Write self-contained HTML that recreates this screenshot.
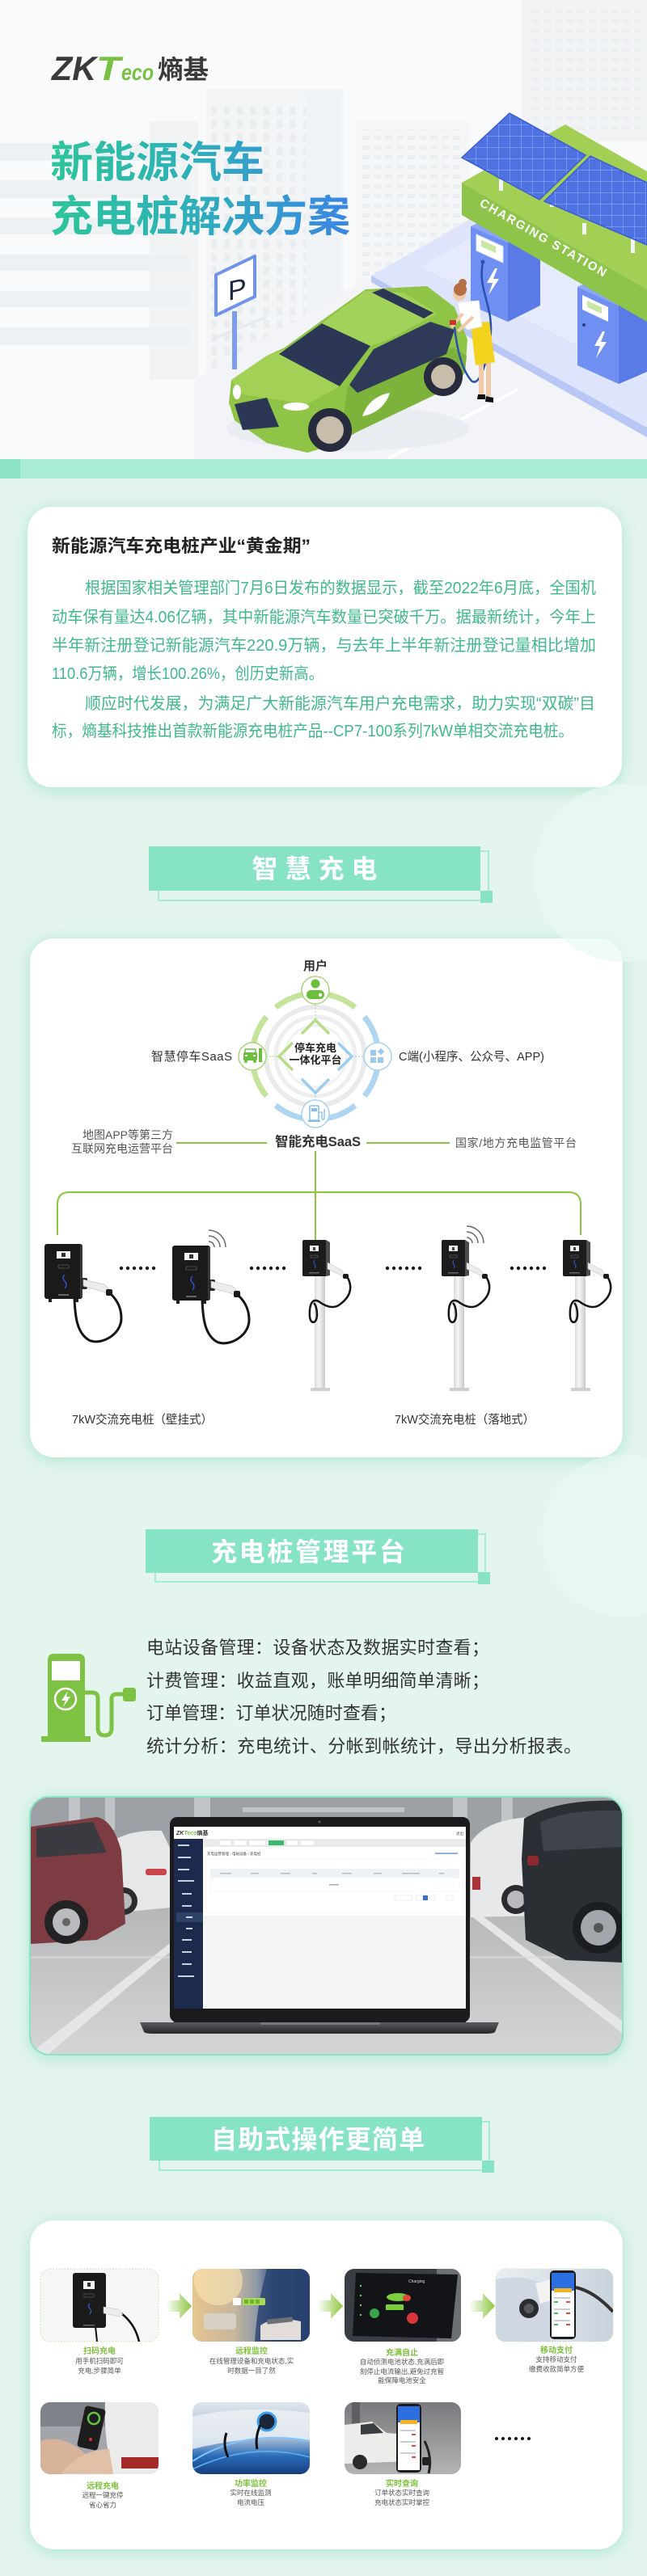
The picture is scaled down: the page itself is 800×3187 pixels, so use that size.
<!DOCTYPE html>
<html><head><meta charset="utf-8">
<style>
html,body{margin:0;padding:0;}
body{width:800px;height:3187px;position:relative;overflow:hidden;background:#e4f5ee;font-family:"Liberation Sans","Noto Sans CJK SC",sans-serif;}
.card{position:absolute;background:#fff;border-radius:30px;box-shadow:0 3px 18px rgba(100,210,165,0.45);}
svg{position:absolute;left:0;top:0;}
svg text{font-family:"Liberation Sans","Noto Sans CJK SC",sans-serif;}
</style></head><body>
<div style="position:absolute;left:0;top:0;width:800px;height:568px;background:#f8fafb"></div>
<div class="card" style="left:34px;top:627px;width:735px;height:347px;"></div>
<div class="card" style="left:37px;top:1161px;width:733px;height:642px;"></div>
<div class="card" style="left:36px;top:2222px;width:731px;height:317px;border:2px solid #8be2c4;border-radius:25px;background:#b5b8ba;"></div>
<div class="card" style="left:37px;top:2747px;width:733px;height:407px;"></div>

<svg width="800" height="3187" viewBox="0 0 800 3187" xmlns="http://www.w3.org/2000/svg">
<defs>
 <linearGradient id="tg" gradientUnits="userSpaceOnUse" x1="62" y1="0" x2="433" y2="0">
  <stop offset="0" stop-color="#2ec59a"/><stop offset="0.45" stop-color="#2eb1b8"/><stop offset="1" stop-color="#3b86e3"/>
 </linearGradient>
 <pattern id="win" width="16.3" height="16.5" patternUnits="userSpaceOnUse"><rect width="7" height="10" fill="#e9edf0"/></pattern>
 <pattern id="win2" width="14" height="12" patternUnits="userSpaceOnUse"><rect width="9" height="5" fill="#eceff2"/></pattern>
 <pattern id="grid" width="14" height="14" patternUnits="userSpaceOnUse"><rect width="14" height="14" fill="#4f72e2"/><path d="M0,0H14M0,0V14" stroke="#9bb1f6" stroke-width="1"/></pattern>
 <linearGradient id="pole" x1="0" x2="1" y1="0" y2="0"><stop offset="0" stop-color="#d9d9d9"/><stop offset="0.4" stop-color="#f6f6f6"/><stop offset="1" stop-color="#c9c9c9"/></linearGradient>
 <linearGradient id="arr" x1="0" x2="1" y1="0" y2="0"><stop offset="0" stop-color="#8cc63f" stop-opacity="0.05"/><stop offset="1" stop-color="#8cc63f"/></linearGradient>
 <linearGradient id="photo" x1="0" x2="0" y1="0" y2="1"><stop offset="0" stop-color="#8e9296"/><stop offset="0.25" stop-color="#a9acaf"/><stop offset="0.5" stop-color="#b9bbbd"/><stop offset="1" stop-color="#d3d5d6"/></linearGradient>
 <linearGradient id="base" x1="0" x2="0" y1="0" y2="1"><stop offset="0" stop-color="#5a5b5f"/><stop offset="1" stop-color="#262729"/></linearGradient>
 <linearGradient id="i2" x1="0" x2="1" y1="0" y2="0"><stop offset="0" stop-color="#e6c58e"/><stop offset="0.35" stop-color="#c8b79d"/><stop offset="0.55" stop-color="#8d99a8"/><stop offset="0.7" stop-color="#34507e"/><stop offset="1" stop-color="#223a63"/></linearGradient>
 <linearGradient id="i6" x1="0" x2="0" y1="0" y2="1"><stop offset="0" stop-color="#dfe5ec"/><stop offset="0.5" stop-color="#a9bfd6"/><stop offset="0.75" stop-color="#2a6bb8"/><stop offset="1" stop-color="#163f7c"/></linearGradient>
 <linearGradient id="i4" x1="0" x2="1" y1="0" y2="0"><stop offset="0" stop-color="#e9eef3"/><stop offset="1" stop-color="#c9d3dc"/></linearGradient>
 <linearGradient id="i7" x1="0" x2="0" y1="0" y2="1"><stop offset="0" stop-color="#77797c"/><stop offset="1" stop-color="#b3b4b5"/></linearGradient>
 <clipPath id="lc"><rect x="38" y="2224" width="731" height="317" rx="23"/></clipPath>
 <clipPath id="c1"><rect x="50" y="2807" width="146" height="90" rx="12"/></clipPath>
 <clipPath id="c2"><rect x="238" y="2807" width="145" height="90" rx="12"/></clipPath>
 <clipPath id="c3"><rect x="426" y="2807" width="144" height="90" rx="12"/></clipPath>
 <clipPath id="c4"><rect x="613" y="2807" width="145" height="90" rx="12"/></clipPath>
 <clipPath id="c5"><rect x="50" y="2972" width="146" height="89" rx="12"/></clipPath>
 <clipPath id="c6"><rect x="238" y="2972" width="145" height="89" rx="12"/></clipPath>
 <clipPath id="c7"><rect x="426" y="2972" width="144" height="89" rx="12"/></clipPath>
</defs>

<!-- ===== HERO BACKGROUND ===== -->
<g>
 <rect x="185" y="150" width="60" height="320" fill="#f1f3f5"/>
 <g fill="#eef1f4">
  <rect x="0" y="177" width="235" height="22"/><rect x="0" y="223" width="235" height="22"/>
  <rect x="0" y="269" width="235" height="21"/><rect x="0" y="315" width="235" height="20"/>
  <rect x="0" y="360" width="235" height="20"/><rect x="0" y="405" width="235" height="22"/>
 </g>
 <rect x="255" y="110" width="170" height="360" fill="#f3f5f7"/>
 <rect x="262" y="127" width="160" height="330" fill="url(#win)"/>
 <rect x="378" y="113" width="44" height="360" fill="#f0f3f5"/>
 <rect x="440" y="150" width="140" height="300" fill="#f4f6f8"/>
 <rect x="448" y="160" width="125" height="280" fill="url(#win2)"/>
 <rect x="645" y="0" width="155" height="175" fill="#f1f3f5"/>
 <rect x="652" y="8" width="145" height="160" fill="url(#win2)"/>
 <!-- ground -->
 <polygon points="240,470 459,341 800,530 800,568 240,568" fill="#f2f4f8"/>
 <line x1="480" y1="567" x2="640" y2="482" stroke="#ffffff" stroke-width="4"/>
 <line x1="262" y1="420" x2="330" y2="392" stroke="#e6e9ee" stroke-width="3"/>
</g>

<!-- platform -->
<polygon points="459,341 640,238 800,238 800,529" fill="#dde4fb"/>
<polygon points="459,341 800,529 800,541 459,349" fill="#b9c7f5"/>
<polygon points="520,330 640,262 800,262 800,470" fill="#e6ebfc"/>

<!-- pumps -->
<g>
 <polygon points="603,262 628,262 628,285 603,285" fill="#eef0fa"/>
 <polygon points="582,280 628,300 628,398 582,378" fill="#6f90f2"/>
 <polygon points="628,300 668,280 668,378 628,398" fill="#5a7ae6"/>
 <polygon points="582,280 622,262 668,280 628,300" fill="#8aa6f5"/>
 <polygon points="589,290 622,305 622,325 589,310" fill="#ffffff" stroke="#dfe6fb"/>
 <polygon points="595,297 613,305 613,313 595,305" fill="#c9e7a4"/>
 <polygon points="612,332 602,350 609,350 604,365 617,345 610,345 615,332" fill="#ffffff"/>
 <circle cx="597" cy="324" r="2.5" fill="#2a4fae"/>
 <polygon points="735,330 760,330 760,362 735,362" fill="#eef0fa"/>
 <polygon points="714,355 765,378 765,475 714,452" fill="#6f90f2"/>
 <polygon points="765,378 800,360 800,460 765,475" fill="#5a7ae6"/>
 <polygon points="714,355 750,338 800,358 765,378" fill="#8aa6f5"/>
 <polygon points="720,365 752,380 752,398 720,383" fill="#ffffff"/>
 <polygon points="726,372 744,380 744,388 726,380" fill="#c9e7a4"/>
 <polygon points="745,410 735,428 742,428 737,443 750,423 743,423 748,410" fill="#ffffff"/>
 <circle cx="722" cy="402" r="2" fill="#2a3a7a"/>
</g>

<!-- canopy -->
<polygon points="571,226 699,154 800,212 800,358" fill="#a3cf55"/>
<polygon points="571,226 800,358 800,398 571,266" fill="#8dc449"/>
<text x="592" y="254" transform="rotate(29.9 592 254)" font-size="15" font-weight="bold" fill="#ffffff" textLength="178" lengthAdjust="spacing">CHARGING STATION</text>
<!-- solar panels -->
<g>
 <rect x="617" y="222" width="5" height="14" fill="#f3f4f8"/>
 <rect x="680" y="240" width="5" height="16" fill="#f3f4f8"/>
 <rect x="720" y="276" width="5" height="14" fill="#f3f4f8"/>
 <rect x="780" y="295" width="5" height="18" fill="#f3f4f8"/>
 <polygon points="571,195 630,140 724,192 667,247" fill="url(#grid)" stroke="#3c5bd0" stroke-width="1.5"/>
 <polygon points="673,249 730,193 800,226 800,303" fill="url(#grid)" stroke="#3c5bd0" stroke-width="1.5"/>
</g>

<!-- parking sign -->
<rect x="287" y="385" width="6" height="72" fill="#7d9df0"/>
<polygon points="267,340 315,317 315,367 267,390" fill="#ffffff" stroke="#6f92ee" stroke-width="4" stroke-linejoin="round"/>
<text x="282" y="372" font-size="34" fill="#1d2640" transform="skewY(-12) translate(0,60)">P</text>

<!-- car -->
<g>
 <ellipse cx="430" cy="530" rx="150" ry="28" fill="#e9ecf1"/>
 <path d="M283,498 L286,470 L330,440 L352,430 L400,395 L452,358 L528,354 L562,380 L578,420 L575,460 L566,475 L440,535 L420,548 L380,560 L330,548 L290,520 Z" fill="#8fc446"/>
 <polygon points="286,470 330,440 352,432 420,478 380,500 300,488" fill="#a2d156"/>
 <polygon points="430,478 560,430 577,440 575,460 566,475 440,535 420,548" fill="#7db33a"/>
 <polygon points="345,438 398,400 458,428 420,478" fill="#2c3756"/>
 <polygon points="398,400 452,360 500,362 540,388 480,420 458,428" fill="#a3d25a"/>
 <polygon points="460,362 474,357 536,387 524,394" fill="#2c3756"/>
 <polygon points="432,476 462,432 532,398 562,408 552,438 442,486" fill="#2f3a58"/>
 <polygon points="290,500 330,492 345,528 300,532" fill="#2c3756"/>
 <ellipse cx="293" cy="485" rx="5" ry="9" fill="#ffffff"/>
 <ellipse cx="366" cy="503" rx="16" ry="5" fill="#ffffff"/>
 <path d="M448,515 C455,495 470,488 482,486 C478,500 466,512 448,515 Z" fill="#ffffff"/>
 <circle cx="408" cy="532" r="27" fill="#262b3d"/><circle cx="408" cy="532" r="17" fill="#c8bcaa"/>
 <circle cx="548" cy="466" r="24" fill="#262b3d"/><circle cx="548" cy="466" r="15" fill="#c8bcaa"/>
</g>
<!-- woman -->
<g>
 <path d="M597,324 C590,360 612,380 606,420 C600,460 590,480 582,470 C570,455 565,430 562,405" stroke="#2a4fae" stroke-width="2.5" fill="none"/>
 <rect x="592" y="446" width="6" height="42" fill="#f0c9a8"/>
 <rect x="601" y="446" width="6" height="44" fill="#f0c9a8"/>
 <path d="M591,488 L600,488 L600,494 L590,494 Z" fill="#111"/>
 <path d="M601,490 L610,492 L610,498 L600,497 Z" fill="#111"/>
 <path d="M582,400 L605,398 L612,448 L588,452 Z" fill="#f2d21b"/>
 <path d="M566,374 L592,372 L596,404 L578,408 L570,400 Z" fill="#ffffff" stroke="#e5e5e5"/>
 <path d="M572,388 L558,405" stroke="#f0c9a8" stroke-width="4"/>
 <path d="M585,392 L566,410" stroke="#f0c9a8" stroke-width="4"/>
 <circle cx="568" cy="364" r="8" fill="#f0c9a8"/>
 <circle cx="569" cy="358" r="8" fill="#b56f45"/>
 <circle cx="572" cy="350" r="5" fill="#b56f45"/>
 <rect x="556" y="396" width="8" height="6" fill="#c0392b"/>
</g>

<!-- logo -->
<text x="64" y="99" font-size="42" font-weight="bold" font-style="italic" fill="#3a3a3a" textLength="55" lengthAdjust="spacingAndGlyphs">ZK</text>
<text x="119" y="99" font-size="42" font-weight="bold" font-style="italic" fill="#79c143" textLength="30" lengthAdjust="spacingAndGlyphs">T</text>
<text x="150" y="99" font-size="28" font-weight="bold" font-style="italic" fill="#79c143" textLength="40" lengthAdjust="spacingAndGlyphs">eco</text>
<text x="195" y="97" font-size="32" font-weight="bold" fill="#3a3a3a" textLength="63" lengthAdjust="spacingAndGlyphs">熵基</text>

<!-- hero title -->
<text x="62" y="219" font-size="53" font-weight="bold" fill="url(#tg)" stroke="#ffffff" stroke-width="1" paint-order="stroke" textLength="265" lengthAdjust="spacingAndGlyphs">新能源汽车</text>
<text x="62" y="286" font-size="53" font-weight="bold" fill="url(#tg)" stroke="#ffffff" stroke-width="1" paint-order="stroke" textLength="371" lengthAdjust="spacingAndGlyphs">充电桩解决方案</text>

<!-- strip -->
<rect x="0" y="568" width="800" height="24" fill="#a8ecd5"/>
<rect x="0" y="568" width="25" height="24" fill="#8de3c5"/>

<!-- decorative circles -->
<circle cx="770" cy="1080" r="110" fill="#eaf8f3" opacity="0.7"/>
<circle cx="770" cy="1900" r="100" fill="#eaf8f3" opacity="0.6"/>

<!-- ===== CARD 1 TEXT ===== -->
<text x="64" y="683" font-size="22" font-weight="bold" fill="#222" textLength="320" lengthAdjust="spacingAndGlyphs">新能源汽车充电桩产业“黄金期”</text>
<g font-size="20" fill="#3fb98c">
 <text x="105" y="734" textLength="632" lengthAdjust="spacingAndGlyphs">根据国家相关管理部门7月6日发布的数据显示，截至2022年6月底，全国机</text>
 <text x="64" y="770" textLength="673" lengthAdjust="spacingAndGlyphs">动车保有量达4.06亿辆，其中新能源汽车数量已突破千万。据最新统计，今年上</text>
 <text x="64" y="805" textLength="673" lengthAdjust="spacingAndGlyphs">半年新注册登记新能源汽车220.9万辆，与去年上半年新注册登记量相比增加</text>
 <text x="64" y="840" textLength="336" lengthAdjust="spacingAndGlyphs">110.6万辆，增长100.26%，创历史新高。</text>
 <text x="105" y="877" textLength="631" lengthAdjust="spacingAndGlyphs">顺应时代发展，为满足广大新能源汽车用户充电需求，助力实现“双碳”目</text>
 <text x="64" y="911" textLength="645" lengthAdjust="spacingAndGlyphs">标，熵基科技推出首款新能源充电桩产品--CP7-100系列7kW单相交流充电桩。</text>
</g>

<!-- ===== BAND 1 ===== -->
<rect x="196" y="1053" width="408" height="61" fill="none" stroke="#a6ebd3" stroke-width="2"/>
<rect x="184" y="1047" width="410" height="55" fill="#86e3c6"/>
<rect x="594" y="1102" width="15" height="15" fill="#86e3c6"/>
<text x="389" y="1086" font-size="32" font-weight="bold" fill="#ffffff" text-anchor="middle" textLength="155" lengthAdjust="spacing">智慧充电</text>

<!-- ===== DIAGRAM ===== -->
<g fill="none">
 <circle cx="390" cy="1307" r="61" stroke="#e8eaeb" stroke-width="6"/>
 <circle cx="390" cy="1307" r="49" stroke="#eceeef" stroke-width="5"/>
 <circle cx="390" cy="1307" r="38" stroke="#f0f1f2" stroke-width="3"/>
 <path d="M340.9,1246.4 A78,78 0 0 1 439.1,1246.4" stroke="#c4e39b" stroke-width="7"/>
 <path d="M329.4,1356.1 A78,78 0 0 1 329.4,1257.9" stroke="#c4e39b" stroke-width="7"/>
 <path d="M450.6,1257.9 A78,78 0 0 1 450.6,1356.1" stroke="#aed6f0" stroke-width="7"/>
 <path d="M439.1,1367.6 A78,78 0 0 1 340.9,1367.6" stroke="#aed6f0" stroke-width="7"/>
 <path d="M373,1279 L390,1262 L407,1279" stroke="#b6dd86" stroke-width="3.5"/>
 <path d="M362,1290 L345,1307 L362,1324" stroke="#b6dd86" stroke-width="3.5"/>
 <path d="M418,1290 L435,1307 L418,1324" stroke="#9dcdee" stroke-width="3.5"/>
 <path d="M373,1335 L390,1352 L407,1335" stroke="#9dcdee" stroke-width="3.5"/>
 <path d="M390,1243 L390,1262" stroke="#b6dd86" stroke-width="1.5" stroke-dasharray="1.5 2.5"/>
 <path d="M329,1307 L345,1307" stroke="#b6dd86" stroke-width="1.5" stroke-dasharray="1.5 2.5"/>
 <path d="M435,1307 L450,1307" stroke="#9dcdee" stroke-width="1.5" stroke-dasharray="1.5 2.5"/>
 <path d="M390,1352 L390,1361" stroke="#9dcdee" stroke-width="1.5" stroke-dasharray="1.5 2.5"/>
</g>
<circle cx="390" cy="1225" r="17" fill="#fff" stroke="#a8d77a" stroke-width="1.5"/>
<circle cx="390" cy="1217" r="5.5" fill="#6cbf3b"/>
<rect x="379" y="1225" width="22" height="11" rx="5" fill="#6cbf3b"/>
<circle cx="396" cy="1231" r="2.2" fill="#fff"/>
<circle cx="312" cy="1307" r="17" fill="#fff" stroke="#a8d77a" stroke-width="1.5"/>
<rect x="301" y="1302" width="17" height="10" rx="2" fill="#6cbf3b"/>
<rect x="303" y="1298" width="13" height="5" rx="1" fill="none" stroke="#6cbf3b" stroke-width="1.5"/>
<circle cx="304" cy="1313" r="2" fill="#6cbf3b"/><circle cx="315" cy="1313" r="2" fill="#6cbf3b"/>
<rect x="320" y="1297" width="4" height="17" fill="#6cbf3b"/>
<rect x="303" y="1305" width="3" height="2" fill="#fff"/><rect x="313" y="1305" width="3" height="2" fill="#fff"/>
<circle cx="467" cy="1307" r="17" fill="#fff" stroke="#a6d2ee" stroke-width="1.5"/>
<rect x="458" y="1299" width="7" height="7" fill="#9cc9ec"/>
<rect x="468" y="1298" width="6" height="6" fill="#9cc9ec" transform="rotate(45 471 1301)"/>
<rect x="458" y="1308" width="7" height="7" fill="#9cc9ec"/>
<rect x="467" y="1308" width="7" height="7" fill="#9cc9ec"/>
<circle cx="390" cy="1378" r="17" fill="#fff" stroke="#a6d2ee" stroke-width="1.5"/>
<rect x="383" y="1368" width="11" height="18" rx="1.5" fill="none" stroke="#86bde8" stroke-width="1.5"/>
<rect x="385" y="1371" width="7" height="4" fill="#86bde8"/>
<rect x="381" y="1386" width="15" height="2" fill="#86bde8"/>
<path d="M394,1376 L398,1376 L398,1384 Q400,1387 401,1383 L401,1372" stroke="#86bde8" stroke-width="1.3" fill="none"/>

<text x="390" y="1301" font-size="13" font-weight="bold" fill="#222" text-anchor="middle">停车充电</text>
<text x="390" y="1316" font-size="13" font-weight="bold" fill="#222" text-anchor="middle">一体化平台</text>
<text x="390" y="1200" font-size="15" font-weight="bold" fill="#333" text-anchor="middle">用户</text>
<text x="287" y="1312" font-size="15" fill="#333" text-anchor="end" textLength="100" lengthAdjust="spacing">智慧停车SaaS</text>
<text x="493" y="1312" font-size="15" fill="#333" textLength="180" lengthAdjust="spacingAndGlyphs">C端(小程序、公众号、APP)</text>
<text x="393" y="1418" font-size="16.5" font-weight="bold" fill="#333" text-anchor="middle" textLength="106" lengthAdjust="spacing">智能充电SaaS</text>
<text x="214" y="1409" font-size="14" fill="#555" text-anchor="end">地图APP等第三方</text>
<text x="214" y="1426" font-size="14" fill="#555" text-anchor="end">互联网充电运营平台</text>
<text x="563" y="1419" font-size="14" fill="#555" textLength="150" lengthAdjust="spacing">国家/地方充电监管平台</text>

<g stroke="#8cc63f" stroke-width="2" fill="none">
 <line x1="218" y1="1414" x2="330" y2="1414"/>
 <line x1="453" y1="1414" x2="556" y2="1414"/>
 <line x1="390" y1="1424" x2="390" y2="1534"/>
 <path d="M71,1528 L71,1490 Q71,1475 86,1475 L703,1475 Q718,1475 718,1490 L718,1528"/>
</g>

<!-- wall chargers -->
<g transform="translate(55,1539)">
 <path d="M37,68 C38,90 40,110 55,119 C70,126 95,112 95,92 C95,80 90,70 83,63" stroke="#151515" stroke-width="3" fill="none"/>
 <rect x="0" y="0" width="47" height="68" rx="3" fill="#1a1a1a"/>
 <rect x="44" y="2" width="3" height="64" fill="#3a3a3a"/>
 <rect x="15" y="9" width="17" height="9" fill="#f2f2f2"/>
 <rect x="21" y="11" width="5" height="5" fill="#333"/>
 <rect x="17" y="26" width="13" height="4" rx="1" fill="none" stroke="#777" stroke-width="0.6"/>
 <path d="M25,38 q-4,4 0,8 q4,4 0,9" stroke="#2f5be0" stroke-width="1.3" fill="none"/>
 <rect x="17" y="62" width="13" height="2" fill="#666"/>
 <rect x="5" y="68" width="4" height="4" fill="#222"/><rect x="38" y="68" width="4" height="4" fill="#222"/>
 <rect x="45" y="42" width="8" height="14" rx="2" fill="#2a2a2a"/>
 <polygon points="48,44 74,50 80,56 78,61 72,59 48,52" fill="#ececec" stroke="#bbb" stroke-width="0.6"/>
 <rect x="76" y="56" width="8" height="8" rx="2" fill="#1a1a1a"/>
</g>
<g transform="translate(213,1541)">
 <path d="M37,68 C38,90 40,110 55,119 C70,126 95,112 95,92 C95,80 90,70 83,63" stroke="#151515" stroke-width="3" fill="none"/>
 <rect x="0" y="0" width="47" height="68" rx="3" fill="#1a1a1a"/>
 <rect x="44" y="2" width="3" height="64" fill="#3a3a3a"/>
 <rect x="15" y="9" width="17" height="9" fill="#f2f2f2"/>
 <rect x="21" y="11" width="5" height="5" fill="#333"/>
 <rect x="17" y="26" width="13" height="4" rx="1" fill="none" stroke="#777" stroke-width="0.6"/>
 <path d="M25,38 q-4,4 0,8 q4,4 0,9" stroke="#2f5be0" stroke-width="1.3" fill="none"/>
 <rect x="17" y="62" width="13" height="2" fill="#666"/>
 <rect x="5" y="68" width="4" height="4" fill="#222"/><rect x="38" y="68" width="4" height="4" fill="#222"/>
 <rect x="45" y="42" width="8" height="14" rx="2" fill="#2a2a2a"/>
 <polygon points="48,44 74,50 80,56 78,61 72,59 48,52" fill="#ececec" stroke="#bbb" stroke-width="0.6"/>
 <rect x="76" y="56" width="8" height="8" rx="2" fill="#1a1a1a"/>
</g>
<g stroke="#6a6a6a" stroke-width="1.5" fill="none">
 <path d="M258,1536 A7,7 0 0 1 265,1543"/><path d="M258,1529 A14,14 0 0 1 272,1543"/><path d="M258,1522 A21,21 0 0 1 279,1543"/>
 <path d="M577,1531 A7,7 0 0 1 584,1538"/><path d="M577,1524 A14,14 0 0 1 591,1538"/><path d="M577,1517 A21,21 0 0 1 598,1538"/>
</g>
<!-- pole chargers -->
<g id="p1" transform="translate(374,1534)">
 <rect x="15" y="45" width="13" height="140" fill="url(#pole)"/>
 <rect x="10" y="183" width="24" height="4" fill="#cfcfcf"/>
 <rect x="0" y="0" width="30" height="45" rx="2" fill="#1c1c1c"/>
 <polygon points="29,0 34,3 34,44 29,45" fill="#4d4d4d"/>
 <rect x="9" y="7" width="11" height="7" fill="#eeeeee"/>
 <rect x="13" y="9" width="3" height="4" fill="#444"/>
 <rect x="10" y="19" width="9" height="3" fill="none" stroke="#777" stroke-width="0.5"/>
 <path d="M15,25 q-2,3 0,5 q2,3 0,5" stroke="#2f5be0" stroke-width="1" fill="none"/>
 <rect x="8" y="40" width="13" height="1.5" fill="#666"/>
 <polygon points="31,28 48,37 53,43 50,46 44,42 31,36" fill="#ececec" stroke="#bbb" stroke-width="0.5"/>
 <rect x="50" y="42" width="7" height="6" rx="2" fill="#1a1a1a"/>
 <path d="M56,47 C62,58 60,70 46,80 C38,86 28,82 20,76 C12,72 8,80 9,95 C10,105 18,104 18,92 C18,85 16,80 14,78" stroke="#151515" stroke-width="2.5" fill="none"/>
</g>
<g transform="translate(546,1534)">
 <rect x="15" y="45" width="13" height="140" fill="url(#pole)"/>
 <rect x="10" y="183" width="24" height="4" fill="#cfcfcf"/>
 <rect x="0" y="0" width="30" height="45" rx="2" fill="#1c1c1c"/>
 <polygon points="29,0 34,3 34,44 29,45" fill="#4d4d4d"/>
 <rect x="9" y="7" width="11" height="7" fill="#eeeeee"/>
 <rect x="13" y="9" width="3" height="4" fill="#444"/>
 <rect x="10" y="19" width="9" height="3" fill="none" stroke="#777" stroke-width="0.5"/>
 <path d="M15,25 q-2,3 0,5 q2,3 0,5" stroke="#2f5be0" stroke-width="1" fill="none"/>
 <rect x="8" y="40" width="13" height="1.5" fill="#666"/>
 <polygon points="31,28 48,37 53,43 50,46 44,42 31,36" fill="#ececec" stroke="#bbb" stroke-width="0.5"/>
 <rect x="50" y="42" width="7" height="6" rx="2" fill="#1a1a1a"/>
 <path d="M56,47 C62,58 60,70 46,80 C38,86 28,82 20,76 C12,72 8,80 9,95 C10,105 18,104 18,92 C18,85 16,80 14,78" stroke="#151515" stroke-width="2.5" fill="none"/>
</g>
<g transform="translate(696,1534)">
 <rect x="15" y="45" width="13" height="140" fill="url(#pole)"/>
 <rect x="10" y="183" width="24" height="4" fill="#cfcfcf"/>
 <rect x="0" y="0" width="30" height="45" rx="2" fill="#1c1c1c"/>
 <polygon points="29,0 34,3 34,44 29,45" fill="#4d4d4d"/>
 <rect x="9" y="7" width="11" height="7" fill="#eeeeee"/>
 <rect x="13" y="9" width="3" height="4" fill="#444"/>
 <rect x="10" y="19" width="9" height="3" fill="none" stroke="#777" stroke-width="0.5"/>
 <path d="M15,25 q-2,3 0,5 q2,3 0,5" stroke="#2f5be0" stroke-width="1" fill="none"/>
 <rect x="8" y="40" width="13" height="1.5" fill="#666"/>
 <polygon points="31,28 48,37 53,43 50,46 44,42 31,36" fill="#ececec" stroke="#bbb" stroke-width="0.5"/>
 <rect x="50" y="42" width="7" height="6" rx="2" fill="#1a1a1a"/>
 <path d="M56,47 C62,58 60,70 46,80 C38,86 28,82 20,76 C12,72 8,80 9,95 C10,105 18,104 18,92 C18,85 16,80 14,78" stroke="#151515" stroke-width="2.5" fill="none"/>
</g>
<!-- dots -->
<g fill="#1a1a1a">
 <circle cx="150" cy="1569" r="2.2"/><circle cx="158" cy="1569" r="2.2"/><circle cx="166" cy="1569" r="2.2"/><circle cx="174" cy="1569" r="2.2"/><circle cx="182" cy="1569" r="2.2"/><circle cx="190" cy="1569" r="2.2"/>
 <circle cx="311" cy="1569" r="2.2"/><circle cx="319" cy="1569" r="2.2"/><circle cx="327" cy="1569" r="2.2"/><circle cx="335" cy="1569" r="2.2"/><circle cx="343" cy="1569" r="2.2"/><circle cx="351" cy="1569" r="2.2"/>
 <circle cx="479" cy="1569" r="2.2"/><circle cx="487" cy="1569" r="2.2"/><circle cx="495" cy="1569" r="2.2"/><circle cx="503" cy="1569" r="2.2"/><circle cx="511" cy="1569" r="2.2"/><circle cx="519" cy="1569" r="2.2"/>
 <circle cx="633" cy="1569" r="2.2"/><circle cx="641" cy="1569" r="2.2"/><circle cx="649" cy="1569" r="2.2"/><circle cx="657" cy="1569" r="2.2"/><circle cx="665" cy="1569" r="2.2"/><circle cx="673" cy="1569" r="2.2"/>
</g>
<text x="89" y="1761" font-size="15" fill="#333" textLength="174" lengthAdjust="spacingAndGlyphs">7kW交流充电桩（壁挂式）</text>
<text x="488" y="1761" font-size="15" fill="#333" textLength="173" lengthAdjust="spacingAndGlyphs">7kW交流充电桩（落地式）</text>

<!-- ===== BAND 2 ===== -->
<rect x="192" y="1898" width="408" height="59" fill="none" stroke="#a6ebd3" stroke-width="2"/>
<rect x="180" y="1892" width="411" height="54" fill="#86e3c6"/>
<rect x="591" y="1945" width="15" height="15" fill="#86e3c6"/>
<text x="381" y="1931" font-size="32" font-weight="bold" fill="#ffffff" text-anchor="middle" textLength="240" lengthAdjust="spacing">充电桩管理平台</text>

<!-- management icon -->
<g>
 <path d="M59,2054 Q59,2046 67,2046 L97,2046 Q105,2046 105,2054 L105,2148 L59,2148 Z" fill="#7dc242"/>
 <rect x="64" y="2055" width="35" height="24" rx="1" fill="#ffffff"/>
 <circle cx="81" cy="2102" r="13" fill="none" stroke="#ffffff" stroke-width="2.5"/>
 <path d="M84,2092 L76,2104 L81,2104 L78,2112 L87,2099 L82,2099 Z" fill="#ffffff"/>
 <rect x="51" y="2148" width="61" height="7" fill="#7dc242"/>
 <path d="M105,2094 L114,2094 Q121,2094 121,2101 L121,2138 Q121,2147 129.5,2147 Q138,2147 138,2138 L138,2102 Q138,2096 144,2096 L153,2096" stroke="#7dc242" stroke-width="5" fill="none"/>
 <rect x="152" y="2088" width="16" height="17" rx="3" fill="#7dc242"/>
</g>
<g font-size="22" fill="#333">
 <text x="181" y="2046" textLength="424" lengthAdjust="spacing">电站设备管理：设备状态及数据实时查看；</text>
 <text x="181" y="2087" textLength="424" lengthAdjust="spacing">计费管理：收益直观，账单明细简单清晰；</text>
 <text x="181" y="2127" textLength="309" lengthAdjust="spacing">订单管理：订单状况随时查看；</text>
 <text x="181" y="2168" textLength="538" lengthAdjust="spacing">统计分析：充电统计、分帐到帐统计，导出分析报表。</text>
</g>

<!-- ===== LAPTOP PHOTO ===== -->
<g clip-path="url(#lc)">
 <rect x="38" y="2224" width="731" height="317" fill="url(#photo)"/>
 <rect x="38" y="2224" width="731" height="40" fill="#9da1a5"/>
 <g fill="#c2c5c8"><rect x="85" y="2224" width="14" height="45"/><rect x="130" y="2224" width="12" height="40"/><rect x="240" y="2224" width="20" height="30"/><rect x="560" y="2224" width="18" height="30"/><rect x="620" y="2224" width="14" height="35"/><rect x="300" y="2236" width="200" height="6"/></g>
 <polygon points="38,2540 209,2405 222,2405 60,2541" fill="#e4e6e7"/>
 <polygon points="582,2370 596,2370 769,2500 769,2515" fill="#e4e6e7"/>
 <rect x="38" y="2420" width="731" height="3" fill="#d9dbdc" opacity="0.6"/>
 <!-- white car left -->
 <path d="M125,2290 Q150,2262 200,2265 L212,2290 L212,2360 L125,2368 Z" fill="#e6e7e8"/>
 <circle cx="153" cy="2352" r="17" fill="#2c2c2e"/><circle cx="153" cy="2352" r="10" fill="#b8babd"/>
 <rect x="180" y="2312" width="26" height="8" rx="3" fill="#c8454a"/>
 <!-- red car -->
 <path d="M38,2260 L120,2248 Q140,2252 150,2290 L155,2380 L120,2400 L38,2405 Z" fill="#7c3c42"/>
 <path d="M45,2262 L115,2254 L132,2292 L45,2298 Z" fill="#3b3a40"/>
 <circle cx="82" cy="2378" r="27" fill="#232325"/><circle cx="82" cy="2378" r="17" fill="#b9bbbe"/><circle cx="82" cy="2378" r="5" fill="#666"/>
 <!-- right white car -->
 <path d="M582,2280 Q600,2250 660,2248 L668,2370 L582,2372 Z" fill="#e7e8e9"/>
 <rect x="584" y="2322" width="10" height="16" fill="#a33"/>
 <circle cx="638" cy="2350" r="18" fill="#2c2c2e"/><circle cx="638" cy="2350" r="11" fill="#b8babd"/>
 <!-- black suv -->
 <path d="M648,2250 Q690,2225 769,2228 L769,2428 L700,2425 L650,2400 L645,2300 Z" fill="#2b2e33"/>
 <path d="M668,2255 Q700,2238 769,2240 L769,2285 L672,2290 Z" fill="#3f444b"/>
 <rect x="652" y="2296" width="14" height="12" rx="3" fill="#8a2a2e"/>
 <circle cx="740" cy="2385" r="32" fill="#1c1d20"/><circle cx="740" cy="2385" r="22" fill="#a3a7ab"/><circle cx="740" cy="2385" r="6" fill="#555"/>
 <!-- laptop -->
 <rect x="210" y="2248" width="371" height="254" rx="9" fill="#1b1b1d"/>
 <circle cx="395" cy="2254" r="1.5" fill="#555"/>
 <rect x="215" y="2260" width="361" height="225" fill="#ffffff"/>
 <rect x="215" y="2260" width="361" height="15" fill="#ffffff"/>
 <text x="218" y="2270" font-size="7" font-weight="bold" font-style="italic" fill="#333">ZK<tspan fill="#79c143">Teco</tspan><tspan font-style="normal" fill="#333">熵基</tspan></text>
 <text x="564" y="2270" font-size="4.5" fill="#555">退出</text>
 <rect x="215" y="2275" width="36" height="210" fill="#1c2a4d"/>
 <rect x="218" y="2366" width="33" height="12" fill="#2e4169"/>
 <g fill="#c9d0de">
  <rect x="220" y="2282" width="14" height="2"/><rect x="220" y="2297" width="16" height="2"/><rect x="220" y="2312" width="14" height="2"/><rect x="220" y="2326" width="20" height="2"/><rect x="225" y="2342" width="12" height="2"/><rect x="225" y="2357" width="12" height="2"/><rect x="230" y="2371" width="8" height="2"/><rect x="230" y="2385" width="8" height="2"/><rect x="225" y="2399" width="12" height="2"/><rect x="225" y="2414" width="12" height="2"/><rect x="225" y="2429" width="12" height="2"/><rect x="220" y="2444" width="20" height="2"/>
 </g>
 <rect x="252" y="2275" width="324" height="10" fill="#ebebeb"/>
 <g fill="#ffffff" stroke="#d6d6d6" stroke-width="0.4">
  <rect x="272" y="2277" width="14" height="6"/><rect x="289" y="2277" width="16" height="6"/><rect x="308" y="2277" width="20" height="6"/><rect x="354" y="2277" width="14" height="6"/><rect x="371" y="2277" width="17" height="6"/>
 </g>
 <rect x="332" y="2277" width="19" height="6" fill="#3cba6b"/>
 <text x="256" y="2295" font-size="4.5" fill="#444">充电运营管理 › 电站设备 › 充电桩</text>
 <rect x="538" y="2292" width="28" height="2" fill="#8fb0e8"/>
 <rect x="255" y="2300" width="317" height="66" fill="#ffffff" stroke="#eeeeee" stroke-width="0.6"/>
 <rect x="260" y="2312" width="308" height="11" fill="#eef2f7"/>
 <rect x="260" y="2323" width="308" height="17" fill="#ffffff" stroke="#e6e9ee" stroke-width="0.5"/>
 <g fill="#b5bac2"><rect x="272" y="2317" width="14" height="1.5"/><rect x="310" y="2317" width="10" height="1.5"/><rect x="347" y="2317" width="12" height="1.5"/><rect x="386" y="2317" width="6" height="1.5"/><rect x="423" y="2317" width="12" height="1.5"/><rect x="462" y="2317" width="10" height="1.5"/><rect x="497" y="2317" width="22" height="1.5"/><rect x="543" y="2317" width="6" height="1.5"/></g>
 <rect x="407" y="2331" width="12" height="1.5" fill="#aaa"/>
 <g fill="#ffffff" stroke="#d8d8d8" stroke-width="0.4"><rect x="488" y="2345" width="22" height="6"/><rect x="515" y="2345" width="6" height="6"/><rect x="531" y="2345" width="6" height="6"/><rect x="552" y="2345" width="8" height="6"/></g>
 <rect x="523" y="2345" width="6" height="6" fill="#3b6fd8"/>
 <rect x="252" y="2370" width="324" height="115" fill="#f3f4f5"/>
 <rect x="215" y="2485" width="361" height="17" fill="#1b1b1d"/>
 <path d="M173,2502 L617,2502 L612,2514 Q610,2516 600,2516 L190,2516 Q180,2516 178,2514 Z" fill="url(#base)"/>
 <rect x="322" y="2502" width="148" height="3" rx="1.5" fill="#77787c"/>
</g>

<!-- ===== BAND 3 ===== -->
<rect x="197" y="2625" width="408" height="60" fill="none" stroke="#a6ebd3" stroke-width="2"/>
<rect x="185" y="2619" width="411" height="54" fill="#86e3c6"/>
<rect x="596" y="2673" width="15" height="15" fill="#86e3c6"/>
<text x="393" y="2658" font-size="32" font-weight="bold" fill="#ffffff" text-anchor="middle" textLength="264" lengthAdjust="spacing">自助式操作更简单</text>

<!-- ===== FEATURES ===== -->
<!-- img1 -->
<rect x="50" y="2807" width="146" height="90" rx="12" fill="#f5f6f5" stroke="#bfe6a3" stroke-width="1" stroke-dasharray="1.5 2"/>
<g clip-path="url(#c1)">
 <path d="M118,2878 L120,2897" stroke="#111" stroke-width="2"/>
 <path d="M150,2862 C160,2870 168,2880 172,2897" stroke="#111" stroke-width="2.5" fill="none"/>
 <rect x="90" y="2812" width="41" height="68" rx="3" fill="#1b1b1b"/>
 <rect x="103" y="2822" width="14" height="10" fill="#f2f2f2"/>
 <rect x="108" y="2824" width="4" height="5" fill="#333"/>
 <rect x="104" y="2838" width="12" height="4" fill="none" stroke="#777" stroke-width="0.5"/>
 <path d="M111,2850 q-3,3 0,6 q3,3 0,7" stroke="#2f5be0" stroke-width="1.2" fill="none"/>
 <rect x="103" y="2876" width="14" height="1.5" fill="#666"/>
 <polygon points="128,2854 146,2857 152,2863 148,2866 128,2862" fill="#ececec" stroke="#bbb" stroke-width="0.5"/>
</g>
<!-- img2 -->
<g clip-path="url(#c2)">
 <rect x="238" y="2807" width="145" height="90" fill="url(#i2)"/>
 <circle cx="270" cy="2822" r="30" fill="#fbe6b4" opacity="0.6"/>
 <rect x="252" y="2862" width="40" height="20" rx="4" fill="#d8d4cd" opacity="0.8"/>
 <path d="M330,2807 L383,2807 L383,2897 L315,2897 Q318,2850 330,2807 Z" fill="#2a4270" opacity="0.8"/>
 <path d="M322,2877 Q340,2864 372,2872 L372,2895 L322,2895 Z" fill="#e2ddd8"/>
 <rect x="330" y="2868" width="32" height="6" rx="2" fill="#6d7075" transform="rotate(-6 346 2871)"/>
 <rect x="288" y="2843" width="10" height="9" rx="2" fill="#ffffff"/>
 <rect x="300" y="2843" width="28" height="9" rx="2" fill="#a9d85a"/>
 <g fill="#6fb52c"><rect x="302" y="2845" width="5" height="5"/><rect x="309" y="2845" width="5" height="5"/><rect x="316" y="2845" width="5" height="5"/></g>
</g>
<!-- img3 -->
<g clip-path="url(#c3)">
 <rect x="426" y="2807" width="144" height="90" fill="#3a3e44"/>
 <rect x="540" y="2807" width="30" height="90" fill="#6c7075"/>
 <polygon points="440,2812 566,2814 558,2893 436,2890" fill="#121417"/>
 <text x="505" y="2824" font-size="5" fill="#ddd">Charging</text>
 <ellipse cx="492" cy="2842" rx="14" ry="5" fill="#7ccf3c"/>
 <ellipse cx="503" cy="2843" rx="5" ry="4" fill="#e0443b"/>
 <rect x="477" y="2851" width="22" height="7" rx="1" fill="#7ccf3c"/>
 <circle cx="463" cy="2862" r="6" fill="#3aa24a"/>
 <circle cx="510" cy="2868" r="7" fill="#d9363e"/>
 <g fill="#5fd35f"><circle cx="446" cy="2828" r="1.2"/><circle cx="446" cy="2840" r="1.2"/><circle cx="446" cy="2852" r="1.2"/><circle cx="446" cy="2864" r="1.2"/></g>
</g>
<!-- img4 -->
<rect x="613" y="2807" width="145" height="90" rx="12" fill="none" stroke="#bfe6a3" stroke-width="1" stroke-dasharray="1.5 2"/>
<g clip-path="url(#c4)">
 <rect x="613" y="2807" width="145" height="90" fill="url(#i4)"/>
 <path d="M613,2820 Q650,2812 680,2830 L680,2897 L613,2897 Z" fill="#cfd8e2"/>
 <circle cx="654" cy="2856" r="12" fill="#2a2c30"/><circle cx="654" cy="2856" r="6" fill="#55585e"/>
 <polygon points="662,2825 690,2818 695,2842 668,2850" fill="#f2f2f2"/>
 <rect x="680" y="2809" width="32" height="85" rx="5" fill="#1c1c1e"/>
 <rect x="682" y="2812" width="28" height="79" fill="#ffffff"/>
 <rect x="682" y="2812" width="28" height="22" fill="#2d6fe0"/>
 <rect x="685" y="2831" width="22" height="5" fill="#f2b321"/>
 <g fill="#c9ced6"><rect x="685" y="2842" width="20" height="2"/><rect x="685" y="2856" width="20" height="2"/><rect x="685" y="2870" width="20" height="2"/></g>
 <g fill="#3fbf6a"><rect x="685" y="2847" width="5" height="2"/><rect x="685" y="2861" width="5" height="2"/><rect x="685" y="2875" width="5" height="2"/></g>
 <g fill="#e5493f"><rect x="700" y="2847" width="5" height="2"/><rect x="700" y="2861" width="5" height="2"/><rect x="700" y="2875" width="5" height="2"/></g>
 <path d="M712,2830 Q735,2835 758,2860" stroke="#333" stroke-width="4" fill="none"/>
</g>
<!-- arrows -->
<polygon points="207,2846 222,2846 222,2837 237,2853 222,2869 222,2860 207,2860" fill="url(#arr)"/>
<polygon points="394,2846 409,2846 409,2837 424,2853 409,2869 409,2860 394,2860" fill="url(#arr)"/>
<polygon points="582,2846 597,2846 597,2837 612,2853 597,2869 597,2860 582,2860" fill="url(#arr)"/>
<!-- img5 -->
<g clip-path="url(#c5)">
 <rect x="50" y="2972" width="146" height="89" fill="#a2a6ab"/>
 <rect x="50" y="2972" width="80" height="30" fill="#7f8389"/>
 <path d="M130,2972 L196,2972 L196,3061 L140,3061 Q128,3020 130,2972 Z" fill="#ebebec"/>
 <rect x="150" y="3040" width="46" height="14" fill="#a42a2a"/>
 <path d="M50,3020 Q80,3010 110,3040 L125,3061 L50,3061 Z" fill="#d7b39a"/>
 <rect x="100" y="2978" width="26" height="52" rx="4" fill="#1d1d1f" transform="rotate(12 113 3004)"/>
 <circle cx="116" cy="2992" r="7" fill="none" stroke="#63c43b" stroke-width="2.5"/>
 <circle cx="112" cy="3018" r="2" fill="#d33"/>
 <path d="M75,3061 Q100,3030 135,3030 L140,3061 Z" fill="#e1c0a8"/>
</g>
<!-- img6 -->
<g clip-path="url(#c6)">
 <rect x="238" y="2972" width="145" height="89" fill="url(#i6)"/>
 <path d="M238,2990 Q300,2975 383,2985 L383,3020 Q320,3010 238,3030 Z" fill="#eef1f5" opacity="0.8"/>
 <path d="M238,3045 Q300,3005 383,3020" stroke="#7fc4ff" stroke-width="2" fill="none"/>
 <path d="M238,3055 Q310,3020 383,3040" stroke="#5fb0f5" stroke-width="1.5" fill="none"/>
 <circle cx="330" cy="2996" r="11" fill="#1b2738" stroke="#3fa0f0" stroke-width="3"/>
 <path d="M322,3000 Q315,3015 318,3030" stroke="#111" stroke-width="3" fill="none"/>
 <path d="M280,3010 Q275,3025 282,3040" stroke="#111" stroke-width="3" fill="none"/>
</g>
<!-- img7 -->
<g clip-path="url(#c7)">
 <rect x="426" y="2972" width="144" height="89" fill="url(#i7)"/>
 <rect x="435" y="2972" width="10" height="30" fill="#5d5f62"/>
 <path d="M426,3000 L460,2996 L478,3010 L505,3012 L508,3045 L426,3048 Z" fill="#ececea"/>
 <polygon points="446,3000 462,2998 474,3010 446,3012" fill="#3a3d42"/>
 <circle cx="445" cy="3046" r="9" fill="#2a2a2c"/>
 <rect x="490" y="2974" width="31" height="85" rx="5" fill="#1c1c1e"/>
 <rect x="492" y="2977" width="27" height="79" fill="#ffffff"/>
 <rect x="492" y="2977" width="27" height="20" fill="#2d6fe0"/>
 <rect x="495" y="2994" width="21" height="5" fill="#f2b321"/>
 <g fill="#c9ced6"><rect x="495" y="3006" width="19" height="2"/><rect x="495" y="3020" width="19" height="2"/><rect x="495" y="3034" width="19" height="2"/></g>
 <g fill="#e5493f"><rect x="509" y="3011" width="5" height="2"/><rect x="509" y="3025" width="5" height="2"/><rect x="509" y="3039" width="5" height="2"/></g>
 <path d="M525,3020 Q535,3040 530,3060" stroke="#222" stroke-width="3" fill="none"/>
 <rect x="522" y="3040" width="10" height="10" rx="2" fill="#222"/>
</g>
<g fill="#1a1a1a"><circle cx="614" cy="3017" r="2"/><circle cx="622" cy="3017" r="2"/><circle cx="630" cy="3017" r="2"/><circle cx="638" cy="3017" r="2"/><circle cx="646" cy="3017" r="2"/><circle cx="654" cy="3017" r="2"/></g>

<!-- feature labels -->
<g text-anchor="middle">
 <g font-size="10" font-weight="bold" fill="#7dc13b">
  <text x="123" y="2912">扫码充电</text>
  <text x="311" y="2912">远程监控</text>
  <text x="497" y="2914">充满自止</text>
  <text x="688" y="2911">移动支付</text>
  <text x="127" y="3079">远程充电</text>
  <text x="310" y="3076">功率监控</text>
  <text x="497" y="3076">实时查询</text>
 </g>
 <g font-size="8.5" fill="#555">
  <text x="123" y="2924">用手机扫码即可</text>
  <text x="123" y="2936">充电,步骤简单</text>
  <text x="311" y="2924">在线管理设备和充电状态,实</text>
  <text x="311" y="2936">时数据一目了然</text>
  <text x="497" y="2925">自动侦测电池状态,充满后即</text>
  <text x="497" y="2937">刻停止电流输出,避免过充智</text>
  <text x="497" y="2948">能保障电池安全</text>
  <text x="688" y="2922">支持移动支付</text>
  <text x="688" y="2934">缴费收款简单方便</text>
  <text x="127" y="3090">远程一键充停</text>
  <text x="127" y="3102">省心省力</text>
  <text x="310" y="3087">实时在线监测</text>
  <text x="310" y="3099">电流电压</text>
  <text x="497" y="3087">订单状态实时查询</text>
  <text x="497" y="3099">充电状态实时掌控</text>
 </g>
</g>
</svg>
</body></html>
